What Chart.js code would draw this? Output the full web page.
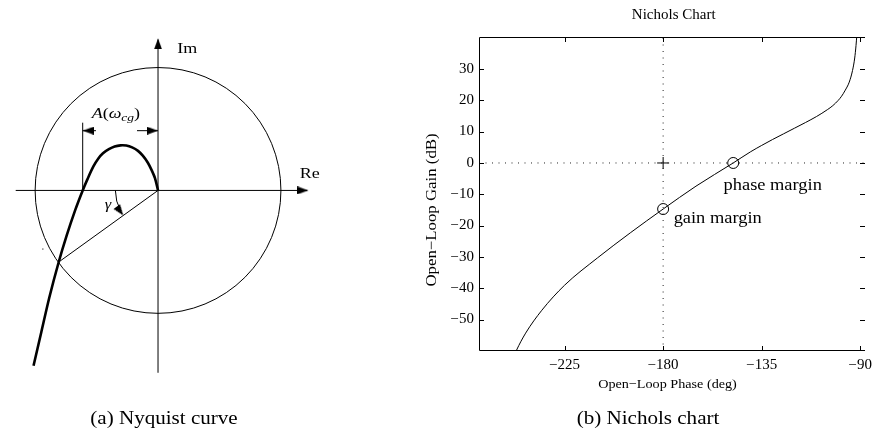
<!DOCTYPE html>
<html>
<head>
<meta charset="utf-8">
<script src="https://cdn.jsdelivr.net/npm/chart.js@4.4.1/dist/chart.umd.min.js"></script>
<style>
  body { margin: 0; background: #fff; }
  #wrap { position: relative; width: 872px; height: 432px; overflow: hidden; }
  canvas { position: absolute; top: 0; }
</style>
</head>
<body>
<div id="wrap">
  <canvas id="nyquist" width="400" height="432" style="left:0"></canvas>
  <canvas id="nichols" width="472" height="432" style="left:400px"></canvas>
</div>
<script>
// ---- (a) Nyquist curve, unit circle radius = 1 ----
const nyqRe = [0, -0.025, -0.053, -0.084, -0.124, -0.163, -0.211, -0.258, -0.305, -0.353, -0.400,
               -0.448, -0.487, -0.526, -0.574, -0.613, -0.674, -0.743, -0.808, -0.885, -0.949, -1.013];
const nyqIm = [0, 0.100, 0.167, 0.227, 0.282, 0.321, 0.349, 0.364, 0.366, 0.357, 0.335,
               0.302, 0.258, 0.195, 0.092, 0, -0.160, -0.365, -0.581, -0.871, -1.147, -1.423];

const crossRe = -0.613;               // where the curve cuts the real axis
const circlePoint = [-0.808, -0.581]; // curve meets the unit circle
const unitRadius = 1;
const gammaRadius = 0.347;
const gammaFrom = 180, gammaTo = 209;

// arrow tips: Im axis, Re axis, dimension left, dimension right, gamma
const arrowRe  = [0, 1.223, -0.613, 0, -0.283];
const arrowIm  = [1.234, 0, 0.485, 0.485, -0.203];
const arrowRot = [0, 90, 270, 90, 144];

// ---- (b) Nichols chart ----
const phaseDeg = [-248.2, -247, -242.8, -235.4, -225, -210, -195, -180, -165, -148,
                  -140, -135, -130, -125, -120, -115, -110, -105, -102.5, -100, -98.5, -97, -95, -93.5, -92.5, -91.9, -91.5];
const gainDb   = [-61.8, -59.8, -54.3, -47.0, -39.0, -30.3, -22.3, -14.7, -7.4, 0,
                  3.6, 5.6, 7.5, 9.3, 11.1, 12.9, 14.8, 17.0, 18.3, 20.0, 21.3, 23.0, 25.8, 29.5, 33.5, 37.5, 41];
const marginPhase = [-180, -148];
const marginGain  = [-14.7, 0];
const xTicks = [-225, -180, -135, -90];
const yTicks = [-50, -40, -30, -20, -10, 0, 10, 20, 30];
const xTickText = ['\u2212225', '\u2212180', '\u2212135', '\u221290'];
const yTickText = ['\u221250', '\u221240', '\u221230', '\u221220', '\u221210', '0', '10', '20', '30'];

const SERIF = '"Liberation Serif", "Times New Roman", serif';

function drawText(ctx, str, x, y, o) {
    ctx.save();
    ctx.translate(x, y);
    if (o.rotate) ctx.rotate(o.rotate);
    ctx.scale(o.sx || 1, 1);
    ctx.font = (o.italic ? 'italic ' : '') + o.size + 'px ' + SERIF;
    ctx.fillStyle = '#000';
    ctx.textAlign = o.align || 'center';
    ctx.textBaseline = o.baseline || 'middle';
    ctx.fillText(str, 0, 0);
    ctx.restore();
}

// small arrow head, tip sits at the image centre, pointing up
function makeArrowHead(w, h) {
    const c = document.createElement('canvas');
    c.width = w; c.height = h * 2;
    const g = c.getContext('2d');
    g.fillStyle = '#000';
    g.beginPath();
    g.moveTo(w / 2, h);
    g.lineTo(0, h * 2);
    g.lineTo(w, h * 2);
    g.closePath();
    g.fill();
    return c;
}
const arrowHead = makeArrowHead(8, 11);

function seg(points, width, tension) {
    return {
        data: points,
        showLine: true,
        borderColor: '#000',
        borderWidth: width,
        pointRadius: 0,
        tension: tension || 0,
        fill: false
    };
}

const nyqPoints = nyqRe.map((v, i) => ({ x: v, y: nyqIm[i] }));

const nyquistDecor = {
    id: 'nyquistDecor',
    beforeDatasetsDraw(chart) {
        const { ctx, scales: { x, y } } = chart;
        const cx = x.getPixelForValue(0), cy = y.getPixelForValue(0);
        const r = x.getPixelForValue(unitRadius) - cx;
        const rg = x.getPixelForValue(gammaRadius) - cx;
        ctx.save();
        ctx.strokeStyle = '#000';
        ctx.lineWidth = 1;
        ctx.beginPath();
        ctx.arc(cx, cy, r, 0, Math.PI * 2);
        ctx.stroke();
        ctx.beginPath();
        ctx.arc(cx, cy, rg, -gammaFrom * Math.PI / 180, -gammaTo * Math.PI / 180, true);
        ctx.stroke();
        ctx.restore();
    },
    afterDatasetsDraw(chart) {
        const { ctx, scales: { x, y } } = chart;
        drawText(ctx, 'Im', x.getPixelForValue(0.237), y.getPixelForValue(1.144), { size: 15, sx: 1.2 });
        drawText(ctx, 'Re', x.getPixelForValue(1.234), y.getPixelForValue(0.132), { size: 15, sx: 1.2 });
        drawText(ctx, '\u03b3', x.getPixelForValue(-0.408), y.getPixelForValue(-0.121), { size: 15, sx: 1.1, italic: true });

        // A(omega_cg)
        const size = 15, sx = 1.2;
        const parts = [
            { t: 'A', it: true, s: size, dy: 0 },
            { t: '(', it: false, s: size, dy: 0 },
            { t: '\u03c9', it: true, s: size, dy: 0 },
            { t: 'cg', it: true, s: size * 0.75, dy: size * 0.22 },
            { t: ')', it: false, s: size, dy: 0 }
        ];
        ctx.save();
        let total = 0;
        parts.forEach(p => {
            ctx.font = (p.it ? 'italic ' : '') + p.s + 'px ' + SERIF;
            p.w = ctx.measureText(p.t).width;
            total += p.w;
        });
        ctx.translate(x.getPixelForValue(-0.343), y.getPixelForValue(0.629));
        ctx.scale(sx, 1);
        ctx.fillStyle = '#000';
        ctx.textBaseline = 'alphabetic';
        let px = -total / 2;
        parts.forEach(p => {
            ctx.font = (p.it ? 'italic ' : '') + p.s + 'px ' + SERIF;
            ctx.fillText(p.t, px, 5 + p.dy);
            px += p.w;
        });
        ctx.restore();

        drawText(ctx, '(a) Nyquist curve', 164, 419, { size: 18, sx: 1.17 });
    }
};

new Chart(document.getElementById('nyquist'), {
    type: 'scatter',
    data: {
        datasets: [
            seg([{ x: -1.158, y: 0 }, { x: 1.215, y: 0 }], 1),
            seg([{ x: 0, y: -1.48 }, { x: 0, y: 1.225 }], 1),
            seg([{ x: crossRe, y: 0 }, { x: crossRe, y: 0.55 }], 1),
            seg([{ x: crossRe, y: 0.485 }, { x: -0.505, y: 0.485 }], 1),
            seg([{ x: -0.171, y: 0.485 }, { x: 0, y: 0.485 }], 1),
            seg([{ x: 0, y: 0 }, { x: circlePoint[0], y: circlePoint[1] }], 1),
            seg(nyqPoints, 2.6, 0.3),
            {
                data: arrowRe.map((v, i) => ({ x: v, y: arrowIm[i] })),
                pointStyle: arrowHead,
                pointRotation: arrowRot,
                pointRadius: 5,
                showLine: false
            },
            {
                data: [{ x: -0.937, y: -0.476 }],
                pointRadius: 0.8,
                backgroundColor: '#666',
                borderWidth: 0
            }
        ]
    },
    options: {
        responsive: false,
        animation: false,
        events: [],
        layout: { padding: 0 },
        plugins: { legend: { display: false }, tooltip: { enabled: false } },
        scales: {
            x: { type: 'linear', display: false, min: -1.237, max: 1.92 },
            y: { type: 'linear', display: false, min: -1.912, max: 1.497 }
        }
    },
    plugins: [nyquistDecor]
});

// ---- Nichols ----
const nicholsDecor = {
    id: 'nicholsDecor',
    afterDatasetsDraw(chart) {
        const { ctx, chartArea: a, scales: { x, y } } = chart;
        ctx.save();
        ctx.strokeStyle = '#000';
        ctx.lineWidth = 1;
        ctx.beginPath();
        // frame (right edge falls outside the picture)
        ctx.moveTo(a.right, a.top + 0.5);
        ctx.lineTo(a.left + 0.5, a.top + 0.5);
        ctx.lineTo(a.left + 0.5, a.bottom - 0.5);
        ctx.lineTo(a.right, a.bottom - 0.5);
        // inward ticks
        xTicks.forEach(v => {
            const px = Math.round(x.getPixelForValue(v)) + 0.5;
            ctx.moveTo(px, a.top); ctx.lineTo(px, a.top + 5);
            ctx.moveTo(px, a.bottom); ctx.lineTo(px, a.bottom - 5);
        });
        yTicks.forEach(v => {
            const py = Math.round(y.getPixelForValue(v)) + 0.5;
            ctx.moveTo(a.left, py); ctx.lineTo(a.left + 5, py);
            ctx.moveTo(a.right, py); ctx.lineTo(a.right - 5, py);
        });
        ctx.stroke();
        ctx.restore();

        xTicks.forEach((v, i) => drawText(ctx, xTickText[i], x.getPixelForValue(v), 365, { size: 14, sx: 1.07 }));
        yTicks.forEach((v, i) => drawText(ctx, yTickText[i], a.left - 5, y.getPixelForValue(v), { size: 14, sx: 1.07, align: 'right' }));

        drawText(ctx, 'Nichols Chart', 273.7, 15, { size: 15 });
        drawText(ctx, 'Open\u2212Loop Phase (deg)', 267.5, 384, { size: 13.5, sx: 1.05 });
        drawText(ctx, 'Open\u2212Loop Gain (dB)', 32, 210, { size: 15, sx: 1.12, rotate: -Math.PI / 2 });

        drawText(ctx, 'phase margin', x.getPixelForValue(-152.4), y.getPixelForValue(-8.7),
            { size: 16, sx: 1.15, align: 'left', baseline: 'alphabetic' });
        drawText(ctx, 'gain margin', x.getPixelForValue(-175.2), y.getPixelForValue(-19.1),
            { size: 16, sx: 1.15, align: 'left', baseline: 'alphabetic' });

        drawText(ctx, '(b) Nichols chart', 248, 419, { size: 18, sx: 1.17 });
    }
};

const dotted = {
    showLine: true,
    borderColor: '#222',
    borderWidth: 1,
    borderDash: [1, 5.5],
    pointRadius: 0
};

new Chart(document.getElementById('nichols'), {
    type: 'scatter',
    data: {
        datasets: [
            Object.assign({ data: [{ x: -180, y: -60 }, { x: -180, y: 40.2 }] }, dotted),
            Object.assign({ data: [{ x: -264.1, y: 0 }, { x: -87.8, y: 0 }] }, dotted),
            {
                data: phaseDeg.map((v, i) => ({ x: v, y: gainDb[i] })),
                showLine: true,
                borderColor: '#000',
                borderWidth: 1,
                pointRadius: 0,
                cubicInterpolationMode: 'monotone'
            },
            {
                data: marginPhase.map((v, i) => ({ x: v, y: marginGain[i] })),
                pointStyle: 'circle',
                pointRadius: 5.5,
                borderColor: '#000',
                borderWidth: 1,
                backgroundColor: 'rgba(0,0,0,0)'
            },
            {
                data: [{ x: -180, y: 0 }],
                pointStyle: 'cross',
                pointRadius: 6,
                borderColor: '#000',
                borderWidth: 1
            }
        ]
    },
    options: {
        responsive: false,
        animation: false,
        events: [],
        layout: { padding: { left: 79, top: 37, right: 0, bottom: 81 } },
        plugins: { legend: { display: false }, tooltip: { enabled: false } },
        scales: {
            x: { type: 'linear', display: false, min: -264.1, max: -87.8 },
            y: { type: 'linear', display: false, min: -60, max: 40.2 }
        }
    },
    plugins: [nicholsDecor]
});
</script>
</body>
</html>
